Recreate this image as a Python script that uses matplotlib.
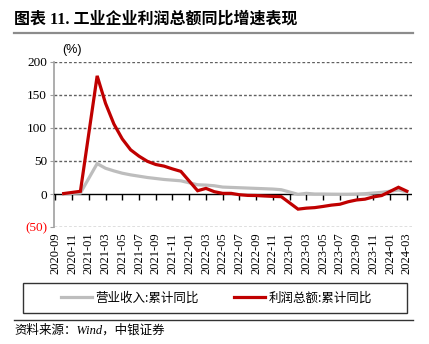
import matplotlib
matplotlib.use("Agg")
import matplotlib.pyplot as plt
from matplotlib.lines import Line2D
from matplotlib.patches import Rectangle

plt.rcParams['font.family'] = ['Liberation Serif', 'Noto Sans CJK SC', 'DejaVu Sans']

# 数据（%），一月无单独数据
months = ['2020-10', '2020-11', '2020-12',
          '2021-02', '2021-03', '2021-04', '2021-05', '2021-06', '2021-07', '2021-08',
          '2021-09', '2021-10', '2021-11', '2021-12',
          '2022-02', '2022-03', '2022-04', '2022-05', '2022-06', '2022-07', '2022-08',
          '2022-09', '2022-10', '2022-11', '2022-12',
          '2023-02', '2023-03', '2023-04', '2023-05', '2023-06', '2023-07', '2023-08',
          '2023-09', '2023-10', '2023-11', '2023-12',
          '2024-02', '2024-03']
revenue = [0.5, 1.0, 1.5,
           46.0, 39.0, 35.0, 31.5, 29.0, 27.0, 25.0,
           23.5, 22.0, 21.0, 20.0,
           14.0, 13.5, 12.5, 10.5, 10.0, 9.5, 9.0,
           8.5, 8.0, 7.5, 6.5,
           -0.5, 1.0, 0.0, 0.0, -0.2, -0.3, -0.3,
           0.0, 0.5, 1.5, 2.5,
           6.0, 3.5]
profit = [0.7, 2.4, 4.1,
          178.9, 137.3, 106.0, 83.4, 66.9, 57.3, 49.5,
          44.7, 42.2, 38.0, 34.3,
          5.0, 8.5, 3.5, 1.0, 1.0, -1.1, -2.1,
          -2.3, -3.0, -3.6, -4.0,
          -22.9, -21.4, -20.6, -18.8, -16.8, -15.5, -11.7,
          -9.0, -7.8, -4.4, -2.3,
          10.2, 4.3]
tick_labels = ['2020-09', '2020-11', '2021-01', '2021-03', '2021-05', '2021-07', '2021-09',
               '2021-11', '2022-01', '2022-03', '2022-05', '2022-07', '2022-09', '2022-11',
               '2023-01', '2023-03', '2023-05', '2023-07', '2023-09', '2023-11', '2024-01',
               '2024-03']
yticks = [-50, 0, 50, 100, 150, 200]


def month_idx(s):
    y, m = s.split('-')
    return (int(y) - 2020) * 12 + int(m) - 9


x = [month_idx(m) for m in months]
xt = [month_idx(m) for m in tick_labels]

fig = plt.figure(figsize=(4.29, 3.44), dpi=100)
ax = fig.add_axes([0.126, 0.340, 0.834, 0.480])

# 虚线网格
for v in yticks:
    if v != 0:
        ax.axhline(v, color='#606060', lw=1.0, linestyle=(0, (2, 1.5)), zorder=2)

ax.plot(x, revenue, color='#BDBDBD', lw=2.3, label='营业收入:累计同比', solid_joinstyle='miter', zorder=3)
ax.plot(x, profit, color='#C00000', lw=2.3, label='利润总额:累计同比', solid_joinstyle='miter', zorder=3)

# 零轴和向下的刻度
ax.axhline(0, color='black', lw=1.0, zorder=2.8)
ax.plot(xt, [0] * len(xt), ls='none', marker=3, ms=4, mew=1, color='black', zorder=2.8)

ax.set_xlim(-0.15, 42.6)
ax.set_ylim(-50, 200)
ax.set_yticks(yticks)
ax.set_yticklabels(['(50)' if v < 0 else str(v) for v in yticks])
ax.get_yticklabels()[0].set_color('red')

ax.set_xticks(xt)
ax.set_xticklabels(tick_labels, rotation=90, fontsize=9)
ax.tick_params(axis='x', length=0, pad=4)
ax.tick_params(axis='y', labelsize=9.5, length=3, color='#A0A0A0', pad=2)

for s in ['top', 'right', 'bottom']:
    ax.spines[s].set_visible(False)
ax.spines['left'].set_color('#A0A0A0')
ax.spines['left'].set_linewidth(1.2)

fig.text(0.168, 0.855, '(%)', fontsize=9, family='Liberation Sans', ha='center', va='center')

fig.text(0.033, 0.942, '图表 11. 工业企业利润总额同比增速表现', fontsize=11.5, fontweight='bold',
         ha='left', va='center')
fig.add_artist(Line2D([0.033, 0.963], [1 - 33 / 344, 1 - 33 / 344], color='#8C8C8C', lw=1.6))

fig.add_artist(Rectangle((0.0536, 0.0901), 0.895, 0.0872, transform=fig.transFigure,
                         fill=False, edgecolor='#333333', lw=1))
fig.legend(loc='center', bbox_to_anchor=(0.5047, 0.1337), ncol=2, frameon=False,
           prop={'family': ['Noto Sans CJK SC'], 'size': 9}, handlelength=2.5,
           handletextpad=0.3, columnspacing=2.8)

fig.add_artist(Line2D([0.033, 0.963], [1 - 320 / 344, 1 - 320 / 344], color='#333333', lw=1))
fig.text(0.033, 0.038, '资料来源：Wind，中银证券', fontsize=9, style='italic',
         ha='left', va='center')

fig.savefig('out.png', dpi=100)
